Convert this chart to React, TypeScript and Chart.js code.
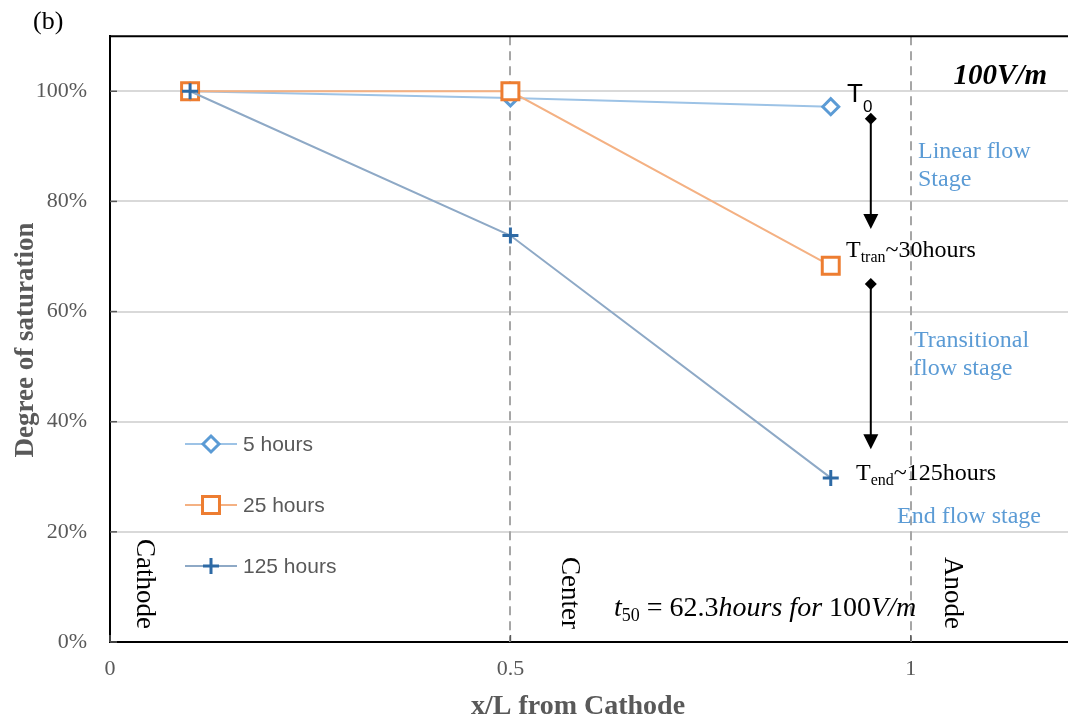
import React, { useEffect, useRef } from "react";
import { Chart, registerables } from "chart.js";

Chart.register(...registerables);

// ---------- data ----------
const xPositions = [0.1, 0.5, 0.9];
const seriesNames = ["5 hours", "25 hours", "125 hours"];
const sat5h = [1.0, 0.988, 0.972];
const sat25h = [1.0, 1.0, 0.683];
const sat125h = [1.0, 0.738, 0.298];
const yTickValues = [0, 0.2, 0.4, 0.6, 0.8, 1.0];
const xTickValues = [0, 0.5, 1];
const xTickLabels = ["0", "0.5", "1"];
const dividerX = [0.5, 1.0];
const regionLabels = ["Cathode", "Center", "Anode"];
// arrows: [x, yFrom, yTo]
const stageArrows = [
  [0.95, 0.95, 0.75],
  [0.95, 0.65, 0.35],
];

const SERIF = "'Liberation Serif', 'Times New Roman', serif";
const SANS = "'Liberation Sans', Arial, sans-serif";
const GRAY = "#595959";
const BLUE_TXT = "#5B9BD5";

type Part = { text: string; font: string; dy?: number };

function drawRich(ctx: CanvasRenderingContext2D, x: number, y: number, parts: Part[]) {
  let cx = x;
  for (const p of parts) {
    ctx.font = p.font;
    ctx.fillText(p.text, cx, y + (p.dy || 0));
    cx += ctx.measureText(p.text).width;
  }
}

function drawMarker(ctx: CanvasRenderingContext2D, style: string, r: number, x: number, y: number) {
  ctx.beginPath();
  if (style === "rectRot") {
    ctx.moveTo(x, y - r);
    ctx.lineTo(x + r, y);
    ctx.lineTo(x, y + r);
    ctx.lineTo(x - r, y);
    ctx.closePath();
    ctx.fill();
    ctx.stroke();
  } else if (style === "rect") {
    const h = r * Math.SQRT1_2;
    ctx.rect(x - h, y - h, 2 * h, 2 * h);
    ctx.fill();
    ctx.stroke();
  } else {
    ctx.moveTo(x - r, y);
    ctx.lineTo(x + r, y);
    ctx.moveTo(x, y - r);
    ctx.lineTo(x, y + r);
    ctx.stroke();
  }
}

const decorPlugin = {
  id: "decor",
  beforeDatasetsDraw(chart: any) {
    const { ctx, chartArea: a, scales } = chart;
    const xs = scales.x;
    const ys = scales.y;
    ctx.save();
    // dashed dividers
    ctx.strokeStyle = "#A6A6A6";
    ctx.lineWidth = 2;
    ctx.setLineDash([9, 6]);
    for (const d of dividerX) {
      const px = Math.round(xs.getPixelForValue(d));
      ctx.beginPath();
      ctx.moveTo(px, a.top);
      ctx.lineTo(px, a.bottom);
      ctx.stroke();
    }
    ctx.setLineDash([]);
    // inner tick marks
    ctx.strokeStyle = "#595959";
    ctx.lineWidth = 1.5;
    for (const v of yTickValues) {
      const py = ys.getPixelForValue(v);
      ctx.beginPath();
      ctx.moveTo(a.left, py);
      ctx.lineTo(a.left + 7, py);
      ctx.stroke();
    }
    for (const v of xTickValues) {
      const px = xs.getPixelForValue(v);
      ctx.beginPath();
      ctx.moveTo(px, a.bottom);
      ctx.lineTo(px, a.bottom - 7);
      ctx.stroke();
    }
    // top border
    ctx.strokeStyle = "#000";
    ctx.lineWidth = 2;
    ctx.beginPath();
    ctx.moveTo(a.left - 1, a.top);
    ctx.lineTo(a.right + 20, a.top);
    ctx.stroke();
    ctx.restore();
  },
  afterDraw(chart: any) {
    const { ctx, scales } = chart;
    const xs = scales.x;
    const ys = scales.y;
    ctx.save();

    // arrows
    ctx.fillStyle = "#000";
    ctx.strokeStyle = "#000";
    for (const [ax, y0, y1] of stageArrows) {
      const px = xs.getPixelForValue(ax);
      const p0 = ys.getPixelForValue(y0);
      const p1 = ys.getPixelForValue(y1);
      ctx.lineWidth = 2;
      ctx.beginPath();
      ctx.moveTo(px, p0);
      ctx.lineTo(px, p1 - 12);
      ctx.stroke();
      ctx.beginPath();
      ctx.moveTo(px, p0 - 6);
      ctx.lineTo(px + 6, p0);
      ctx.lineTo(px, p0 + 6);
      ctx.lineTo(px - 6, p0);
      ctx.closePath();
      ctx.fill();
      ctx.beginPath();
      ctx.moveTo(px, p1);
      ctx.lineTo(px - 7.5, p1 - 15);
      ctx.lineTo(px + 7.5, p1 - 15);
      ctx.closePath();
      ctx.fill();
    }

    // (b)
    ctx.fillStyle = "#000";
    ctx.textAlign = "left";
    ctx.textBaseline = "alphabetic";
    ctx.font = `26px ${SERIF}`;
    ctx.fillText("(b)", 33, 29);

    // 100V/m
    ctx.textAlign = "right";
    ctx.font = `italic bold 29px ${SERIF}`;
    ctx.fillText("100V/m", 1047, 84);
    ctx.textAlign = "left";

    // T0
    drawRich(ctx, 847, 102, [
      { text: "T", font: `26px ${SANS}` },
      { text: "0", font: `17px ${SANS}`, dy: 10 },
    ]);
    // Ttran
    drawRich(ctx, 846, 257, [
      { text: "T", font: `24px ${SERIF}` },
      { text: "tran", font: `16px ${SERIF}`, dy: 5 },
      { text: "~30hours", font: `24px ${SERIF}` },
    ]);
    // Tend
    drawRich(ctx, 856, 480, [
      { text: "T", font: `24px ${SERIF}` },
      { text: "end", font: `16px ${SERIF}`, dy: 5 },
      { text: "~125hours", font: `24px ${SERIF}` },
    ]);

    // stage labels
    ctx.fillStyle = BLUE_TXT;
    ctx.font = `24px ${SERIF}`;
    ctx.fillText("Linear flow", 918, 158);
    ctx.fillText("Stage", 918, 186);
    ctx.fillText("Transitional", 914, 347);
    ctx.fillText("flow stage", 913, 375);
    ctx.fillText("End flow stage", 897, 523);

    // t50 formula
    ctx.fillStyle = "#000";
    drawRich(ctx, 614, 616, [
      { text: "t", font: `italic 28px ${SERIF}` },
      { text: "50", font: `18px ${SERIF}`, dy: 5 },
      { text: " = 62.3", font: `28px ${SERIF}` },
      { text: "hours", font: `italic 28px ${SERIF}` },
      { text: " ", font: `28px ${SERIF}` },
      { text: "for", font: `italic 28px ${SERIF}` },
      { text: " 100", font: `28px ${SERIF}` },
      { text: "V/m", font: `italic 28px ${SERIF}` },
    ]);

    // region labels (rotated)
    const regionX = [0.034, 0.564, 1.043];
    ctx.font = `27px ${SERIF}`;
    ctx.textAlign = "right";
    regionLabels.forEach((lab, i) => {
      ctx.save();
      ctx.translate(xs.getPixelForValue(regionX[i]), 629);
      ctx.rotate(Math.PI / 2);
      ctx.fillText(lab, 0, 0);
      ctx.restore();
    });

    // axis titles
    ctx.fillStyle = GRAY;
    ctx.textAlign = "center";
    ctx.font = `bold 28px ${SERIF}`;
    ctx.fillText("x/L from Cathode", 578, 714);
    ctx.font = `bold 27px ${SERIF}`;
    ctx.save();
    ctx.translate(33, 340);
    ctx.rotate(-Math.PI / 2);
    ctx.fillText("Degree of saturation", 0, 0);
    ctx.restore();

    // legend
    const legY = [444, 505, 566];
    chart.data.datasets.forEach((ds: any, i: number) => {
      const y = legY[i];
      ctx.strokeStyle = ds.borderColor;
      ctx.lineWidth = ds.borderWidth;
      ctx.beginPath();
      ctx.moveTo(185, y);
      ctx.lineTo(237, y);
      ctx.stroke();
      ctx.save();
      ctx.lineWidth = ds.pointBorderWidth;
      ctx.strokeStyle = ds.pointBorderColor;
      ctx.fillStyle = ds.pointBackgroundColor;
      drawMarker(ctx, ds.pointStyle, ds.pointRadius, 211, y);
      ctx.restore();
      ctx.fillStyle = GRAY;
      ctx.font = `21px ${SANS}`;
      ctx.textAlign = "left";
      ctx.textBaseline = "middle";
      ctx.fillText(ds.label, 243, y + 1);
      ctx.textBaseline = "alphabetic";
    });

    ctx.restore();
  },
};

export default function App() {
  const ref = useRef<HTMLCanvasElement | null>(null);
  useEffect(() => {
    if (!ref.current) return;
    const toPts = (arr: number[]) => xPositions.map((x, i) => ({ x, y: arr[i] }));
    const chart = new Chart(ref.current, {
      type: "scatter",
      data: {
        datasets: [
          {
            label: seriesNames[0],
            data: toPts(sat5h),
            showLine: true,
            borderColor: "#9DC3E6",
            borderWidth: 2,
            pointStyle: "rectRot",
            pointRadius: 8,
            pointBorderWidth: 3,
            pointBorderColor: "#5B9BD5",
            pointBackgroundColor: "#FFFFFF",
            order: 3,
          },
          {
            label: seriesNames[1],
            data: toPts(sat25h),
            showLine: true,
            borderColor: "#F4B183",
            borderWidth: 2,
            pointStyle: "rect",
            pointRadius: 12,
            pointBorderWidth: 3,
            pointBorderColor: "#ED7D31",
            pointBackgroundColor: "#FFFFFF",
            order: 2,
          },
          {
            label: seriesNames[2],
            data: toPts(sat125h),
            showLine: true,
            borderColor: "#8EA9C6",
            borderWidth: 2,
            pointStyle: "cross",
            pointRadius: 8,
            pointBorderWidth: 3,
            pointBorderColor: "#2E6AA5",
            pointBackgroundColor: "#2E6AA5",
            order: 1,
          },
        ] as any,
      },
      options: {
        animation: false,
        responsive: false,
        maintainAspectRatio: false,
        layout: { padding: { left: 0, top: 34, right: 3, bottom: 0 } },
        plugins: {
          legend: { display: false },
          tooltip: { enabled: false },
          title: { display: false },
        },
        scales: {
          x: {
            type: "linear",
            min: 0,
            max: 1.2,
            afterBuildTicks: (s: any) => {
              s.ticks = xTickValues.map((v) => ({ value: v }));
            },
            afterFit: (s: any) => {
              s.height = 77;
            },
            ticks: {
              callback: (v: any) => {
                const i = xTickValues.indexOf(Number(v));
                return i >= 0 ? xTickLabels[i] : "";
              },
              color: GRAY,
              font: { family: SERIF, size: 22 },
              padding: 14,
              maxRotation: 0,
            },
            grid: { display: false, drawTicks: false },
            border: { display: true, color: "#000", width: 2 },
          },
          y: {
            type: "linear",
            min: 0,
            max: 1.1,
            afterBuildTicks: (s: any) => {
              s.ticks = yTickValues.map((v) => ({ value: v }));
            },
            afterFit: (s: any) => {
              s.width = 110;
            },
            ticks: {
              callback: (v: any) => `${Math.round(Number(v) * 100)}%`,
              color: GRAY,
              font: { family: SERIF, size: 22 },
              padding: 23,
            },
            grid: { color: "#D9D9D9", lineWidth: 2, drawTicks: false },
            border: { display: true, color: "#000", width: 2 },
          },
        },
      },
      plugins: [decorPlugin],
    } as any);
    return () => chart.destroy();
  }, []);

  return (
    <div
      style={{
        position: "absolute",
        left: 0,
        top: 0,
        width: 1068,
        height: 719,
        overflow: "hidden",
        background: "#fff",
      }}
    >
      <canvas ref={ref} width={1086} height={719} style={{ display: "block" }} />
    </div>
  );
}
